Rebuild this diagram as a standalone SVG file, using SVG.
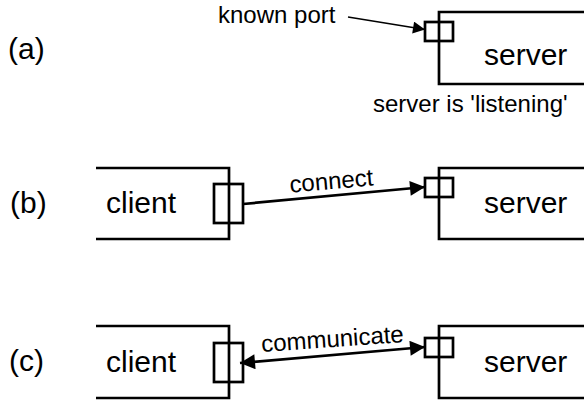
<svg xmlns="http://www.w3.org/2000/svg" width="584" height="407" viewBox="0 0 584 407">
<defs>
<style>
text{font-family:"Liberation Sans",Arial,sans-serif;fill:#000}
.big{font-size:30px}
.small{font-size:24px}
.box{fill:none;stroke:#000;stroke-width:2.7}
.port{fill:#fff;stroke:#000;stroke-width:2.7}
.conn{fill:none;stroke:#000;stroke-width:2.7}
.thin{fill:none;stroke:#000;stroke-width:1.5}
</style>
<marker id="ah" viewBox="0 0 10 10" refX="10" refY="5" markerWidth="20" markerHeight="15" markerUnits="userSpaceOnUse" orient="auto-start-reverse">
<path d="M0,0 L10,5 L0,10 Z" fill="#000"/>
</marker>
<marker id="ahs" viewBox="0 0 10 10" refX="10" refY="5" markerWidth="15" markerHeight="12" markerUnits="userSpaceOnUse" orient="auto">
<path d="M0,0 L10,5 L0,10 Z" fill="#000"/>
</marker>
</defs>
<rect width="584" height="407" fill="#fff"/>
<g id="labels">
<text class="big" x="8" y="59">(a)</text>
<text class="big" x="10" y="213">(b)</text>
<text class="big" x="9" y="371">(c)</text>
</g>
<g id="server-a">
<path class="box" d="M586,12 H439 V84 H586"/>
<rect class="port" x="425" y="22" width="28" height="19"/>
<line class="box" x1="439" y1="22" x2="439" y2="41"/>
<text class="big" x="484" y="65">server</text>
<text class="small" x="373" y="112">server is 'listening'</text>
</g>
<g id="known-port">
<text class="small" x="218" y="23">known port</text>
</g>
<g id="client-b">
<path class="box" d="M96,168 H229 V239 H96"/>
<rect class="port" x="214" y="184" width="29" height="39"/>
<line class="box" x1="229" y1="184" x2="229" y2="223"/>
<text class="big" x="106" y="213">client</text>
</g>
<g id="server-b">
<path class="box" d="M586,168 H439 V239 H586"/>
<rect class="port" x="425" y="178" width="28" height="19"/>
<line class="box" x1="439" y1="178" x2="439" y2="197"/>
<text class="big" x="484" y="213">server</text>
</g>
<g id="client-c">
<path class="box" d="M96,326 H229 V398 H96"/>
<rect class="port" x="214" y="343" width="29" height="39"/>
<line class="box" x1="229" y1="343" x2="229" y2="382"/>
<text class="big" x="106" y="372">client</text>
</g>
<g id="server-c">
<path class="box" d="M586,326 H439 V398 H586"/>
<rect class="port" x="425" y="338" width="28" height="19"/>
<line class="box" x1="439" y1="338" x2="439" y2="357"/>
<text class="big" x="484" y="372">server</text>
</g>
<g id="connectors">
<line class="thin" x1="348" y1="17" x2="425" y2="29.5" marker-end="url(#ahs)"/>
<line class="conn" x1="243" y1="204" x2="425" y2="187" marker-end="url(#ah)"/>
<text class="small" x="332" y="189" text-anchor="middle" transform="rotate(-5 332 189)">connect</text>
<line class="conn" x1="240" y1="363" x2="425" y2="347" marker-start="url(#ah)" marker-end="url(#ah)"/>
<text class="small" x="333" y="347" text-anchor="middle" transform="rotate(-4 333 347)">communicate</text>
</g>
</svg>
